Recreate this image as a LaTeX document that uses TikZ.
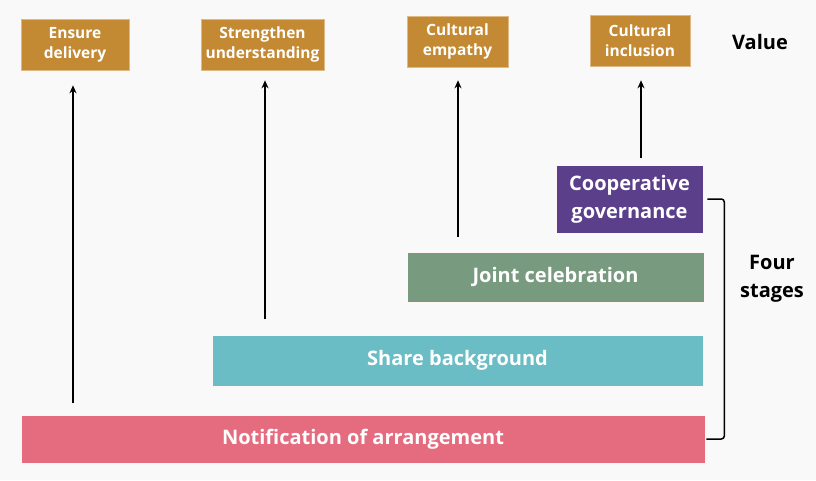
\documentclass[tikz,border=0pt]{standalone}
\usepackage{fontspec}
\setmainfont{Open Sans}
\usetikzlibrary{arrows.meta}
\definecolor{valuegold}{HTML}{C48A33}
\definecolor{govpurple}{HTML}{5B3F8A}
\definecolor{celgreen}{HTML}{789B7F}
\definecolor{shareteal}{HTML}{6ABCC5}
\definecolor{notifpink}{HTML}{E46C7E}
\definecolor{paper}{HTML}{F9F9F9}
\begin{document}
\begin{tikzpicture}[x=1pt, y=-1pt,
    valuebox/.style={fill=valuegold, draw=valuegold!60!white, line width=0.6pt, text=white,
      font=\fontsize{15.5}{20}\selectfont\bfseries, align=center, inner sep=0pt},
    stagebox/.style={draw=white!85!pink, line width=0.6pt, text=white,
      font=\fontsize{20}{28}\selectfont\bfseries, align=center, inner sep=0pt},
    sidelabel/.style={font=\fontsize{20}{28}\selectfont\bfseries, align=center},
    uparrow/.style={-{Stealth[length=8pt,width=7pt]}, line width=1.5pt}]
    \fill[paper] (0,0) rectangle (816,480);
    \useasboundingbox (0,0) rectangle (816,480);
    \node[valuebox, minimum width=108pt, minimum height=51pt] (ensure) at (75,44.5) {Ensure\\delivery};
    \node[valuebox, minimum width=123pt, minimum height=51pt] (strengthen) at (262.5,44.5) {Strengthen\\understanding};
    \node[valuebox, minimum width=101pt, minimum height=51pt] (empathy) at (457.5,41.5) {Cultural\\empathy};
    \node[valuebox, minimum width=100pt, minimum height=51pt] (inclusion) at (640,40.5) {Cultural\\inclusion};
    \node[sidelabel] (value) at (760,42) {Value};
    \node[stagebox, fill=govpurple, minimum width=147pt, minimum height=68pt] (coop) at (629.5,199) {Cooperative\\governance};
    \node[stagebox, fill=celgreen, minimum width=297pt, minimum height=50pt] (joint) at (555.5,277) {Joint celebration};
    \node[stagebox, fill=shareteal, minimum width=491pt, minimum height=51pt] (share) at (457.5,360.5) {Share background};
    \node[stagebox, fill=notifpink, minimum width=684pt, minimum height=48pt] (notif) at (363,439) {Notification of arrangement};
    \node[sidelabel] (stages) at (772,279) {Four\\stages};
    \coordinate (t1) at (73,403);
    \coordinate (t2) at (265,319);
    \coordinate (t3) at (458,237);
    \coordinate (t4) at (641,158);
    \draw[uparrow, shorten >=15pt] (t1) -- (t1 |- ensure.south);
    \draw[uparrow, shorten >=10pt] (t2) -- (t2 |- strengthen.south);
    \draw[uparrow, shorten >=13pt] (t3) -- (t3 |- empathy.south);
    \draw[uparrow, shorten >=14pt] (t4) -- (t4 |- inclusion.south);
    \draw[line width=1.5pt, rounded corners=3pt] ([xshift=4pt]coop.east) -| ([xshift=19pt]notif.east) -- ([xshift=1pt]notif.east);
\end{tikzpicture}
\end{document}
